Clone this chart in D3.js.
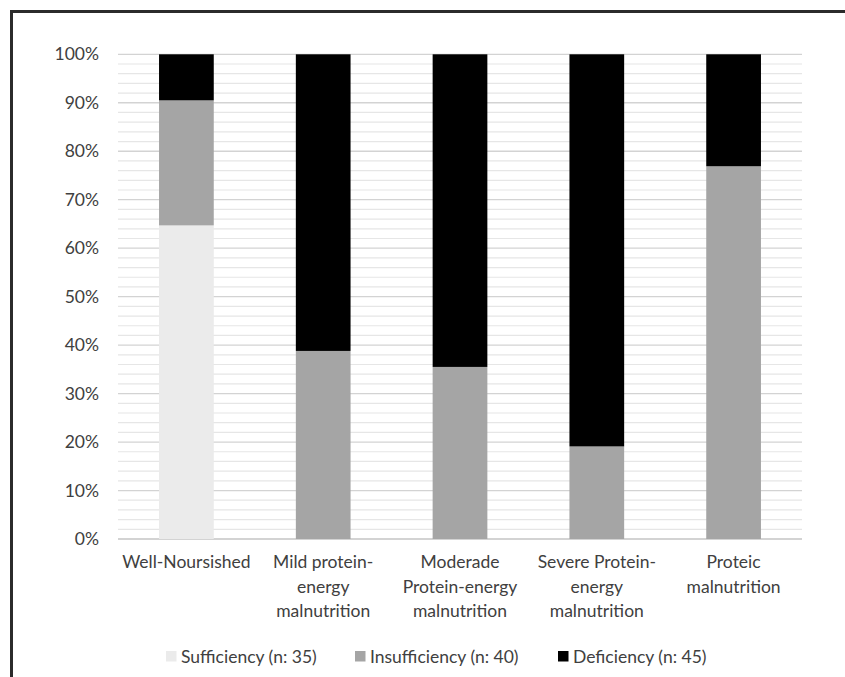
<!DOCTYPE html>
<html>
<head>
<meta charset="utf-8">
<script src="https://cdn.jsdelivr.net/npm/d3@7"></script>
<style>
  html, body { margin: 0; padding: 0; background: #fff; }
  svg { display: block; }
  text { font-family: Lato, "Open Sans", sans-serif; fill: #404040; }
</style>
</head>
<body>
<svg id="chart" width="845" height="677"></svg>
<script>
// Nutritional status groups (x-axis), with label lines
const categories = [
  "Well-Noursished",
  "Mild protein-energy malnutrition",
  "Moderade Protein-energy malnutrition",
  "Severe Protein-energy malnutrition",
  "Proteic malnutrition"
];
const categoryLines = [
  ["Well-Noursished"],
  ["Mild protein-", "energy", "malnutrition"],
  ["Moderade", "Protein-energy", "malnutrition"],
  ["Severe Protein-", "energy", "malnutrition"],
  ["Proteic", "malnutrition"]
];

// Share of each status within the group (%)
const sufficiency   = [64.7, 0, 0, 0, 0];
const insufficiency = [25.8, 38.8, 35.5, 19.1, 76.9];
const deficiency    = [9.5, 61.2, 64.5, 80.9, 23.1];

const seriesNames  = ["Sufficiency (n: 35)", "Insufficiency (n: 40)", "Deficiency (n: 45)"];
const seriesColors = ["#ebebeb", "#a5a5a5", "#000000"];

const yTicks = [0, 10, 20, 30, 40, 50, 60, 70, 80, 90, 100];
const yMinor = d3.range(0, 101, 2);

const svg = d3.select("#chart");

// Outer frame
svg.append("rect")
  .attr("x", 11.5).attr("y", 11.5)
  .attr("width", 900).attr("height", 900)
  .attr("fill", "none")
  .attr("stroke", "#2b2b2b")
  .attr("stroke-width", 3);

const plotLeft = 118, plotRight = 802, plotTop = 54.3, plotBottom = 539;

const x = d3.scaleBand()
  .domain(categories)
  .range([plotLeft, plotRight])
  .paddingInner(0.6)
  .paddingOuter(0.3);

const y = d3.scaleLinear().domain([0, 100]).range([plotBottom, plotTop]);

// Gridlines: fine every 2%, stronger every 10%
const grid = svg.append("g");
grid.selectAll("line.minor")
  .data(yMinor.filter(v => v % 10 !== 0))
  .join("line")
  .attr("class", "minor")
  .attr("x1", plotLeft).attr("x2", plotRight)
  .attr("y1", d => y(d)).attr("y2", d => y(d))
  .attr("stroke", "#e6e6e6").attr("stroke-width", 1.2);
grid.selectAll("line.major")
  .data(yTicks)
  .join("line")
  .attr("class", "major")
  .attr("x1", plotLeft).attr("x2", plotRight)
  .attr("y1", d => y(d)).attr("y2", d => y(d))
  .attr("stroke", d => d === 0 ? "#c4c4c4" : "#d3d3d3")
  .attr("stroke-width", d => d === 0 ? 1.6 : 1.3);

// Stacked bars
const table = categories.map((c, i) => ({
  cat: c, s0: sufficiency[i], s1: insufficiency[i], s2: deficiency[i]
}));
const stack = d3.stack().keys(["s0", "s1", "s2"]);
const layers = stack(table);

svg.append("g")
  .selectAll("g")
  .data(layers)
  .join("g")
  .attr("fill", (d, i) => seriesColors[i])
  .selectAll("rect")
  .data(d => d.filter(p => p[1] - p[0] > 0))
  .join("rect")
  .attr("x", d => x(d.data.cat))
  .attr("width", x.bandwidth())
  .attr("y", d => y(d[1]))
  .attr("height", d => y(d[0]) - y(d[1]));

// Y axis labels
const yAxis = d3.axisLeft(y)
  .tickValues(yTicks)
  .tickFormat(d => d + "%")
  .tickSize(0)
  .tickPadding(19);
const yg = svg.append("g").attr("transform", `translate(${plotLeft},0)`).call(yAxis);
yg.select(".domain").remove();
yg.selectAll("text")
  .style("font-family", "Lato, sans-serif")
  .style("font-size", "17.5px")
  .attr("fill", "#404040");

// Category labels
const xl = svg.append("g");
categories.forEach((c, i) => {
  const cx = x(c) + x.bandwidth() / 2;
  const t = xl.append("text")
    .attr("text-anchor", "middle")
    .attr("x", cx)
    .attr("y", 568)
    .style("font-size", "17.5px");
  categoryLines[i].forEach((line, j) => {
    t.append("tspan").attr("x", cx).attr("dy", j === 0 ? 0 : 24.5).text(line);
  });
});

// Legend
const legendX = [166, 355, 558];
const lg = svg.append("g");
seriesNames.forEach((name, i) => {
  lg.append("rect")
    .attr("x", legendX[i]).attr("y", 651)
    .attr("width", 10.5).attr("height", 10.5)
    .attr("fill", seriesColors[i]);
  lg.append("text")
    .attr("x", legendX[i] + 15)
    .attr("y", 663)
    .style("font-size", "17.5px")
    .text(name);
});
</script>
</body>
</html>
